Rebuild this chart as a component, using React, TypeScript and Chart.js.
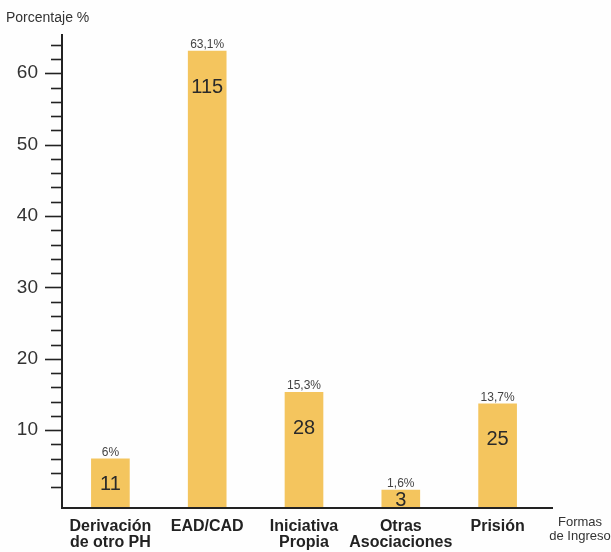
import React, { useEffect, useRef } from "react";
import { Chart, registerables } from "chart.js";

Chart.register(...registerables);

const categories: string[][] = [
  ["Derivación", "de otro PH"],
  ["EAD/CAD"],
  ["Iniciativa", "Propia"],
  ["Otras", "Asociaciones"],
  ["Prisión"],
];
const counts: number[] = [11, 115, 28, 3, 25];
const percents: number[] = [6, 63.1, 15.3, 1.6, 13.7];
const yTitle = "Porcentaje %";
const xTitle: string[] = ["Formas", "de Ingreso"];
const yMin = -0.76;
const yMax = 65.3;
const yStep = 2;
const yLabelEvery = 10;

const FONT = "'Liberation Sans', Arial, Helvetica, sans-serif";

const fmtPct = (p: number) => String(p).replace(".", ",") + "%";

const overlay = {
  id: "overlay",
  beforeDraw(chart: any) {
    const { ctx } = chart;
    ctx.save();
    ctx.fillStyle = "#fefefe";
    ctx.fillRect(0, 0, chart.width, chart.height);
    ctx.restore();
  },
  afterDraw(chart: any) {
    const { ctx, chartArea } = chart;
    const y = chart.scales.y;
    ctx.save();
    // x axis line (extends past the last category)
    ctx.strokeStyle = "#222";
    ctx.lineWidth = 2;
    ctx.beginPath();
    ctx.moveTo(chartArea.left - 1, chartArea.bottom + 1);
    ctx.lineTo(553, chartArea.bottom + 1);
    ctx.stroke();
    // y ticks
    ctx.lineWidth = 1.6;
    for (const t of y.ticks) {
      const v = t.value;
      if (v <= 0 || v > yMax) continue;
      const py = Math.round(y.getPixelForValue(v)) + 0.5;
      const len = v % yLabelEvery === 0 ? 17 : 11;
      ctx.beginPath();
      ctx.moveTo(chartArea.left - len, py);
      ctx.lineTo(chartArea.left, py);
      ctx.stroke();
    }
    // bar labels
    const meta = chart.getDatasetMeta(0);
    meta.data.forEach((bar: any, i: number) => {
      const top = bar.y;
      const base = bar.base;
      ctx.fillStyle = "#444";
      ctx.font = `12px ${FONT}`;
      ctx.textAlign = "center";
      ctx.textBaseline = "alphabetic";
      ctx.fillText(fmtPct(percents[i]), bar.x, top - 3);
      ctx.fillStyle = "#2a2a2a";
      ctx.font = `20px ${FONT}`;
      ctx.textBaseline = "middle";
      const cy = Math.min(top + 36, (top + base) / 2 + 2);
      ctx.fillText(String(counts[i]), bar.x, cy);
    });
    // titles
    ctx.fillStyle = "#333";
    ctx.font = `14px ${FONT}`;
    ctx.textAlign = "left";
    ctx.textBaseline = "middle";
    ctx.fillText(yTitle, 6, 18);
    ctx.font = `13px ${FONT}`;
    ctx.textAlign = "center";
    ctx.fillText(xTitle[0], 580, 522);
    ctx.fillText(xTitle[1], 580, 536);
    ctx.restore();
  },
};

export default function App() {
  const ref = useRef<HTMLCanvasElement>(null);
  useEffect(() => {
    const chart = new Chart(ref.current!, {
      type: "bar",
      data: {
        labels: categories,
        datasets: [
          {
            data: percents,
            backgroundColor: "#F4C55E",
            borderWidth: 0,
            barThickness: 38,
            base: yMin,
          } as any,
        ],
      },
      options: {
        responsive: false,
        animation: false,
        devicePixelRatio: 1,
        layout: { padding: { top: 30, right: 65, left: 0, bottom: 0 } },
        plugins: { legend: { display: false }, tooltip: { enabled: false } },
        scales: {
          x: {
            grid: { display: false, drawTicks: false },
            border: { display: false },
            ticks: {
              color: "#222",
              padding: 12,
              font: { family: FONT, size: 16, weight: "bold", lineHeight: 1.0 },
              maxRotation: 0,
              autoSkip: false,
            },
            afterFit: (s: any) => {
              s.height = 45;
            },
          },
          y: {
            min: yMin,
            max: yMax,
            grid: { display: false, drawTicks: false },
            border: { display: true, color: "#222", width: 2 },
            ticks: {
              stepSize: yStep,
              includeBounds: false,
              autoSkip: false,
              maxTicksLimit: 1000,
              padding: 24,
              color: "#333",
              font: { family: FONT, size: 19 },
              callback: (v: any) => (v > 0 && v % yLabelEvery === 0 ? String(v) : ""),
            },
            afterFit: (s: any) => {
              s.width = 62;
            },
          },
        },
      },
      plugins: [overlay],
    });
    return () => chart.destroy();
  }, []);
  return (
    <div style={{ position: "absolute", left: 0, top: 0, width: 611, height: 552 }}>
      <canvas ref={ref} width={611} height={552} />
    </div>
  );
}
